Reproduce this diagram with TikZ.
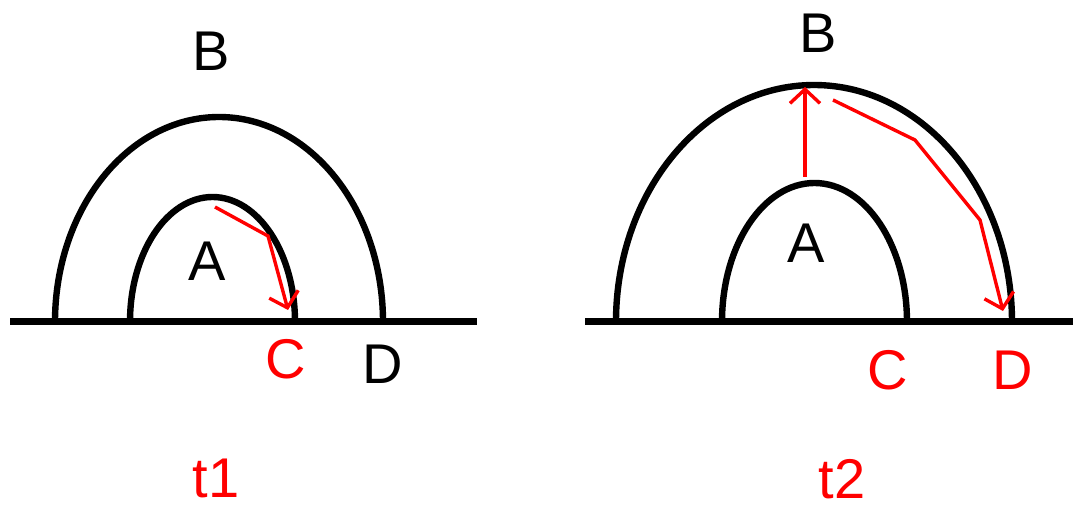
\documentclass[tikz,border=0pt]{standalone}
\usepackage{fontspec}
\setmainfont{Liberation Sans}
\usetikzlibrary{arrows.meta}

\begin{document}
\begin{tikzpicture}[
      x=0.5pt, y=-0.5pt,
      arcline/.style={line width=3.2pt},
      ground/.style={line width=3.5pt},
      redarr/.style={red, line width=1.7pt, -{Straight Barb[length=7pt, width=15pt]}},
      lbl/.style={font=\fontsize{28}{30}\selectfont, inner sep=0pt},
      redlbl/.style={lbl, red}
    ]
    \useasboundingbox (0,0) rectangle (1073,513);

    % t1
    \draw[ground] (10,322) -- (477,322);
    \draw[arcline] (55,322) arc[start angle=180, end angle=360, x radius=164, y radius=205];
    \draw[arcline] (130,322) arc[start angle=180, end angle=360, x radius=82.5, y radius=125];

    \node[lbl] (b1) at (211,51) {B};
    \node[lbl] (a1) at (207,261) {A};
    \node[redlbl] (c1) at (286,359) {C};
    \node[lbl] (d1) at (383,364) {D};
    \node[redlbl] (t1) at (216,478) {t1};

    \coordinate (p1s) at (215,207);
    \coordinate (p1k) at (268,236);
    \coordinate (p1e) at (288,310);
    \draw[redarr] (p1s) -- (p1k) -- (p1e);

    % t2
    \draw[ground] (585,322) -- (1073,322);
    \draw[arcline] (616,322) arc[start angle=180, end angle=360, x radius=198, y radius=237];
    \draw[arcline] (722,322) arc[start angle=180, end angle=360, x radius=92.5, y radius=139];

    \node[lbl] (b2) at (818,33) {B};
    \node[lbl] (a2) at (806,243) {A};
    \node[redlbl] (c2) at (888,370) {C};
    \node[redlbl] (d2) at (1013,370) {D};
    \node[redlbl] (t2) at (842,479) {t2};

    \coordinate (q0s) at (805,177);
    \coordinate (q0e) at (805,87);
    \draw[redarr] (q0s) -- (q0e);

    \coordinate (q1s) at (833,100);
    \coordinate (q1k) at (915,140);
    \coordinate (q1m) at (980,220);
    \coordinate (q1e) at (1003,311);
    \draw[redarr] (q1s) -- (q1k) -- (q1m) -- (q1e);
  \end{tikzpicture}
\end{document}
